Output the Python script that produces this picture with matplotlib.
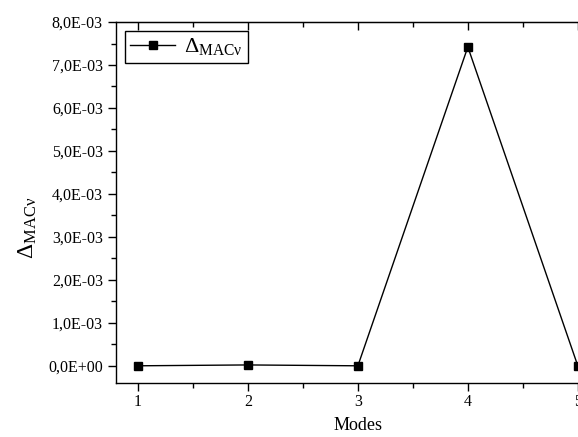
import matplotlib
matplotlib.use('Agg')
import matplotlib.pyplot as plt
from matplotlib.ticker import FuncFormatter, MultipleLocator

plt.rcParams['font.family'] = ['Liberation Serif', 'DejaVu Serif']
plt.rcParams['mathtext.fontset'] = 'custom'
plt.rcParams['mathtext.rm'] = 'Liberation Serif'
plt.rcParams['mathtext.it'] = 'Liberation Serif:italic'

modes = [1, 2, 3, 4, 5]
delta_mac = [0.0, 2e-5, 0.0, 7.42e-3, 0.0]
series_label = r'$\Delta_{\mathrm{MAC\nu}}$'


def sci_comma(v, pos):
    return ('%.1E' % v).replace('.', ',')


fig = plt.figure(figsize=(5.78, 4.37), dpi=100)
ax = fig.add_axes([0.2007, 0.1236, 0.837, 0.826])

ax.plot(modes, delta_mac, color='black', lw=1.0, marker='s', ms=6,
        label=series_label, clip_on=False, zorder=3)

ax.set_xlim(0.8, 5.2)
ax.set_ylim(-0.4e-3, 8e-3)
ax.xaxis.set_major_locator(MultipleLocator(1))
ax.xaxis.set_minor_locator(MultipleLocator(0.5))
ax.yaxis.set_major_locator(MultipleLocator(1e-3))
ax.yaxis.set_minor_locator(MultipleLocator(0.5e-3))
ax.yaxis.set_major_formatter(FuncFormatter(sci_comma))

ax.tick_params(which='both', direction='out', top=False, right=False,
               labelsize=11.5, width=1.0)
ax.tick_params(which='major', length=6)
ax.tick_params(which='minor', length=3.5)
ax.tick_params(axis='x', pad=2)

# top axis: ticks pointing inward, no labels (Origin style)
top = ax.secondary_xaxis('top')
top.xaxis.set_major_locator(MultipleLocator(1))
top.xaxis.set_minor_locator(MultipleLocator(0.5))
top.tick_params(which='both', direction='in', labeltop=False, width=1.0)
top.tick_params(which='major', length=6)
top.tick_params(which='minor', length=3.5)

for s in ax.spines.values():
    s.set_linewidth(1.0)

ax.set_xlabel('Modes', fontsize=13, labelpad=5)
ax.set_ylabel(series_label, fontsize=17)
ax.yaxis.set_label_coords(-0.16, 0.43)

ax.legend(loc='upper left', fontsize=16, fancybox=False, edgecolor='black',
          framealpha=1, borderaxespad=0.4, handlelength=2.0,
          borderpad=0.25, handletextpad=0.4)

fig.savefig('out.png', dpi=100)
